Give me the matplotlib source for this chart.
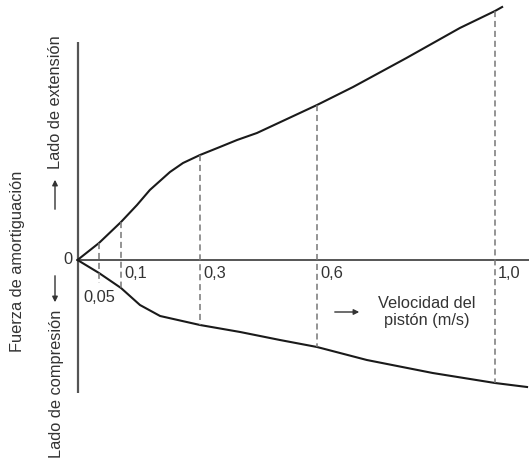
import matplotlib.pyplot as plt
import numpy as np

plt.rcParams['font.family'] = ['Liberation Sans', 'DejaVu Sans']

# velocidades marcadas (m/s) y sus etiquetas
velocity_marks = [0.05, 0.1, 0.3, 0.6, 1.0]
mark_labels = ['0,05', '0,1', '0,3', '0,6', '1,0']

# lado de extension (fuerza, unidades relativas)
v_ext = [0, 0.05, 0.1, 0.1405, 0.173, 0.224, 0.257, 0.3, 0.351, 0.395, 0.446,
         0.523, 0.6, 0.681, 0.801, 0.921, 1.0, 1.016]
f_ext = [0, 0.17, 0.38, 0.55, 0.70, 0.88, 0.97, 1.05, 1.13, 1.20, 1.27,
         1.41, 1.55, 1.73, 2.02, 2.32, 2.49, 2.53]

# lado de compresion
v_comp = [0, 0.05, 0.1, 0.148, 0.199, 0.3, 0.403, 0.505, 0.6, 0.712, 0.860, 1.0, 1.072]
f_comp = [0, -0.13, -0.28, -0.45, -0.56, -0.65, -0.72, -0.80, -0.87, -1.00, -1.13, -1.23, -1.27]

# the sketch's velocity axis is not quite linear, so map it piecewise
knot_v = [-1.0, 0, 0.05, 0.1, 0.3, 0.6, 1.0, 2.0]
knot_p = [-362.5, 77.5, 99, 121, 200, 317, 495, 940]


def fwd(v):
    return np.interp(v, knot_v, knot_p)


def inv(p):
    return np.interp(p, knot_p, knot_v)


W, H = 529, 459


def px(x, y):
    return (x / W, 1 - y / H)


fig = plt.figure(figsize=(W / 100, H / 100), dpi=100)
ax = fig.add_axes([0, 0, 1, 1])
ax.set_xscale('function', functions=(fwd, inv))
ax.set_xlim(inv(0), inv(W))
ax.set_ylim(-1.99, 2.60)
ax.axis('off')

axis_col = '#555555'
text_col = '#333333'

# ejes
ax.plot([0, 0], [2.18, -1.33], color=axis_col, lw=1.6, solid_capstyle='butt')
ax.plot([0, inv(W)], [0, 0], color=axis_col, lw=1.4)

# curvas
ax.plot(v_ext, f_ext, color='#1a1a1a', lw=1.5)
ax.plot(v_comp, f_comp, color='#1a1a1a', lw=1.5)

# lineas de referencia
for v in velocity_marks:
    top = np.interp(v, v_ext, f_ext)
    bot = np.interp(v, v_comp, f_comp)
    if v == 0.05:
        bot -= 0.1
    ax.plot([v, v], [top, bot], color='#777777', lw=1.1, ls=(0, (4, 2.5)))

fs = 11.8
for v, lab in zip(velocity_marks, mark_labels):
    if v == 0.05:
        ax.annotate(lab, (v, 0), xytext=(0, -38), textcoords='offset pixels',
                    ha='center', va='center', fontsize=fs, color=text_col)
    else:
        ax.annotate(lab, (v, 0), xytext=(3, -14), textcoords='offset pixels',
                    ha='left', va='center', fontsize=fs, color=text_col)

ax.annotate('0', (0, 0), xytext=(-5, 0), textcoords='offset pixels',
            ha='right', va='center', fontsize=fs, color=text_col)

# textos del eje vertical
fig.text(*px(18, 261), 'Fuerza de amortiguación', rotation=90,
         ha='center', va='center', fontsize=fs, color=text_col)
fig.text(*px(56, 102), 'Lado de extensión', rotation=90,
         ha='center', va='center', fontsize=fs, color=text_col)
fig.text(*px(57, 384), 'Lado de compresión', rotation=90,
         ha='center', va='center', fontsize=fs, color=text_col)

arrow = dict(arrowstyle='-|>', color=text_col, lw=1.0, mutation_scale=8)
ax.annotate('', xy=px(55, 177), xytext=px(55, 212), xycoords='figure fraction',
            textcoords='figure fraction', arrowprops=arrow)
ax.annotate('', xy=px(55, 305), xytext=px(55, 273), xycoords='figure fraction',
            textcoords='figure fraction', arrowprops=arrow)

# texto del eje horizontal
fig.text(*px(427, 312), 'Velocidad del\npistón (m/s)', ha='center', va='center',
         fontsize=fs, color=text_col, linespacing=1.25)
ax.annotate('', xy=px(362, 312), xytext=px(332, 312), xycoords='figure fraction',
            textcoords='figure fraction', arrowprops=arrow)

plt.savefig('out.png', dpi=100)
